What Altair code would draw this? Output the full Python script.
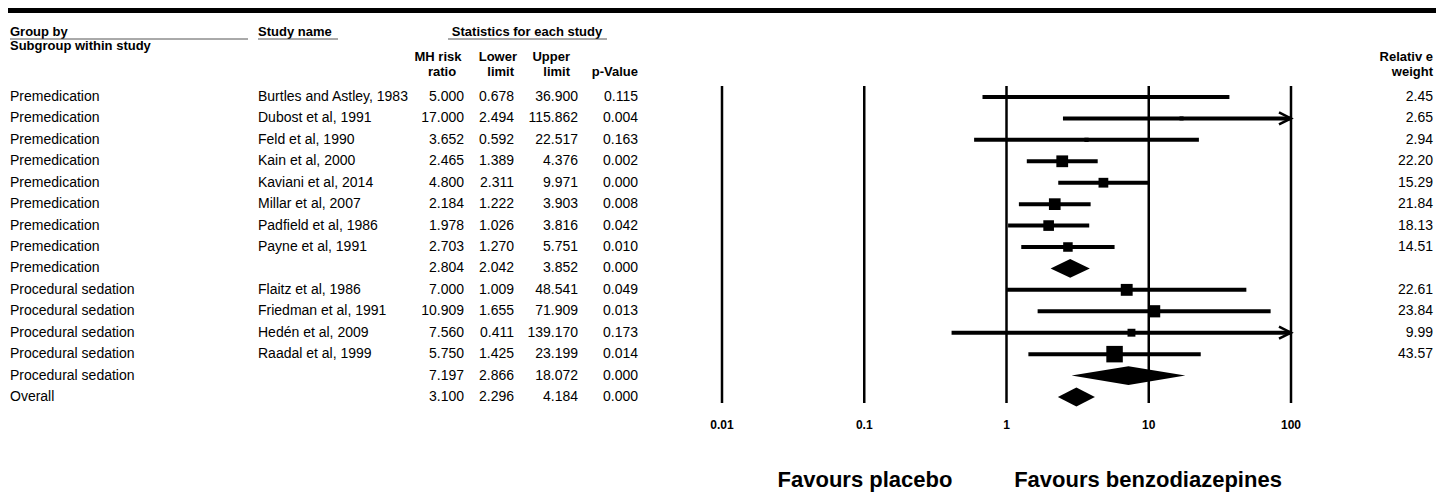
import altair as alt
import pandas as pd

# ---------------- data ----------------
groups = ["Premedication"] * 9 + ["Procedural sedation"] * 5 + ["Overall"]
studies = ["Burtles and Astley, 1983", "Dubost et al, 1991", "Feld et al, 1990",
           "Kain et al, 2000", "Kaviani et al, 2014", "Millar et al, 2007",
           "Padfield et al, 1986", "Payne et al, 1991", "",
           "Flaitz et al, 1986", "Friedman et al, 1991", "Hedén et al, 2009",
           "Raadal et al, 1999", "", ""]
risk_ratio = [5.000, 17.000, 3.652, 2.465, 4.800, 2.184, 1.978, 2.703, 2.804,
              7.000, 10.909, 7.560, 5.750, 7.197, 3.100]
lower_limit = [0.678, 2.494, 0.592, 1.389, 2.311, 1.222, 1.026, 1.270, 2.042,
               1.009, 1.655, 0.411, 1.425, 2.866, 2.296]
upper_limit = [36.900, 115.862, 22.517, 4.376, 9.971, 3.903, 3.816, 5.751, 3.852,
               48.541, 71.909, 139.170, 23.199, 18.072, 4.184]
p_value = [0.115, 0.004, 0.163, 0.002, 0.000, 0.008, 0.042, 0.010, 0.000,
           0.049, 0.013, 0.173, 0.014, 0.000, 0.000]
rel_weight = [2.45, 2.65, 2.94, 22.20, 15.29, 21.84, 18.13, 14.51, None,
              22.61, 23.84, 9.99, 43.57, None, None]
is_summary = [False] * 8 + [True] + [False] * 4 + [True, True]
tick_values = [0.01, 0.1, 1, 10, 100]
tick_labels = ["0.01", "0.1", "1", "10", "100"]

df = pd.DataFrame({
    "row": list(range(len(groups))),
    "group": groups, "study": studies, "rr": risk_ratio,
    "lower": lower_limit, "upper": upper_limit, "p": p_value,
    "weight": rel_weight, "summary": is_summary,
})
studies_df = df[~df["summary"]]
summ_df = df[df["summary"]]

# diamond polygons derived from summary rows
HALF = 0.44  # half height of diamond in row units
dia = []
for _, r in summ_df.iterrows():
    dia.append({"id": r["row"], "x": r["lower"], "yl": r["row"], "yh": r["row"]})
    dia.append({"id": r["row"], "x": r["rr"], "yl": r["row"] - HALF, "yh": r["row"] + HALF})
    dia.append({"id": r["row"], "x": r["upper"], "yl": r["row"], "yh": r["row"]})
dia_df = pd.DataFrame(dia)

ticks_df = pd.DataFrame({"tick": tick_values, "label": tick_labels})
one = pd.DataFrame({"a": [0]})

# ---------------- layout ----------------
OFF = 8
W, H = 1428, 487
FONT = "Liberation Sans"


def px(v):
    return v - OFF


xscale = alt.Scale(type="log", domain=[0.01, 100], range=[px(722), px(1291)], clamp=True)
yscale = alt.Scale(domain=[0, 14], range=[px(97), px(397)])
Y = alt.Y("row:Q", scale=yscale, axis=None)


def label(txt, x, y, align="left", size=13, bold=True):
    return alt.Chart(one).mark_text(
        text=txt, align=align, baseline="middle", fontSize=size,
        fontWeight="bold" if bold else "normal", font=FONT, color="black"
    ).encode(x=alt.value(px(x)), y=alt.value(px(y)))


def hline(x1, x2, y, color="#555", w=1):
    return alt.Chart(one).mark_rule(color=color, strokeWidth=w).encode(
        x=alt.value(px(x1)), x2=alt.value(px(x2)), y=alt.value(px(y)))


def col(field, x, align="left", fmt=None, data=df):
    t = alt.Text(f"{field}:Q", format=fmt) if fmt else alt.Text(f"{field}:N")
    return alt.Chart(data).mark_text(
        align=align, baseline="middle", fontSize=14, font=FONT, color="black"
    ).encode(x=alt.value(px(x)), y=Y, text=t)


top_bar = alt.Chart(one).mark_rect(color="black").encode(
    x=alt.value(0), x2=alt.value(W), y=alt.value(0), y2=alt.value(5))

headers = [
    label("Group by", 10, 32), hline(10, 248, 39),
    label("Subgroup within study", 10, 46),
    label("Study name", 258, 32), hline(258, 338, 39),
    label("Statistics for each study", 527, 32, align="center"), hline(448, 607, 39),
    label("MH risk", 438, 57, align="center"), label("ratio", 442, 72, align="center"),
    label("Lower", 517, 57, align="right"), label("limit", 514, 72, align="right"),
    label("Upper", 570, 57, align="right"), label("limit", 570, 72, align="right"),
    label("p-Value", 638, 72, align="right"),
    label("Relativ e", 1433, 57, align="right"), label("weight", 1433, 72, align="right"),
]

columns = [
    col("group", 10),
    col("study", 258),
    col("rr", 464, "right", ".3f"),
    col("lower", 514, "right", ".3f"),
    col("upper", 578, "right", ".3f"),
    col("p", 638, "right", ".3f"),
    alt.Chart(df).transform_filter("isValid(datum.weight)").mark_text(
        align="right", baseline="middle", fontSize=14, font=FONT, color="black"
    ).encode(x=alt.value(px(1433)), y=Y, text=alt.Text("weight:Q", format=".2f")),
]

vlines = alt.Chart(ticks_df).mark_rule(color="black", strokeWidth=2.5).encode(
    x=alt.X("tick:Q", scale=xscale, axis=None),
    y=alt.value(px(86)), y2=alt.value(px(403)))

tick_text = alt.Chart(ticks_df).mark_text(
    fontSize=12, fontWeight="bold", font=FONT, color="black", baseline="middle"
).encode(x=alt.X("tick:Q", scale=xscale, axis=None), y=alt.value(px(425)), text="label:N")

ci = alt.Chart(studies_df).mark_rule(color="black", strokeWidth=4).encode(
    x=alt.X("lower:Q", scale=xscale, axis=None), x2="upper:Q", y=Y)

squares = alt.Chart(studies_df).mark_square(color="black", opacity=1).encode(
    x=alt.X("rr:Q", scale=xscale, axis=None), y=Y,
    size=alt.Size("weight:Q", scale=alt.Scale(type="linear", domain=[0, 43.57], range=[0, 272]),
                  legend=None))

arrows = alt.Chart(studies_df).transform_filter("datum.upper > 100").mark_point(
    shape="M -1 -0.5 L 0 0 L -1 0.5", filled=False, color="black",
    strokeWidth=2.5, size=576, opacity=1
).encode(x=alt.X("upper:Q", scale=xscale, axis=None), y=Y)

diamonds = alt.Chart(dia_df).mark_area(color="black", opacity=1).encode(
    x=alt.X("x:Q", scale=xscale, axis=None),
    y=alt.Y("yl:Q", scale=yscale, axis=None), y2="yh:Q",
    detail="id:N")

favours = [
    label("Favours placebo", 865, 480, align="center", size=22),
    label("Favours benzodiazepines", 1148, 480, align="center", size=22),
]

chart = alt.layer(
    top_bar, *headers, *columns, vlines, tick_text, ci, squares, arrows, diamonds, *favours
).properties(width=W, height=H, padding=0, autosize="none").configure_view(stroke=None)

chart.save("out.html", embed_options={"renderer": "svg", "actions": False})
